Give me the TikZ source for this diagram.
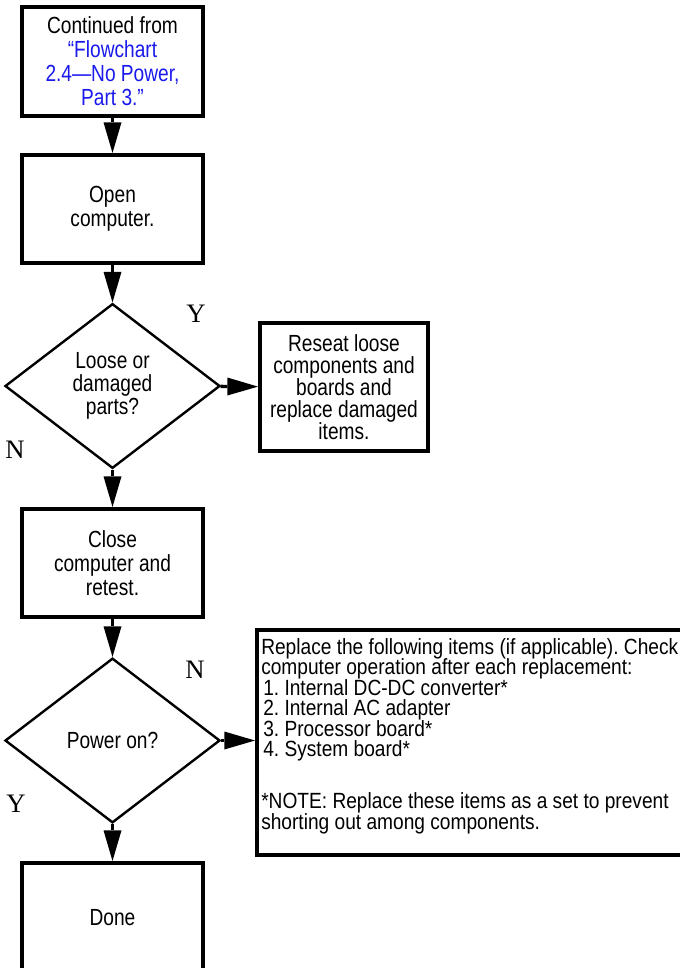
\documentclass[tikz,border=0pt]{standalone}
\usepackage{fontspec}
\setmainfont{Liberation Sans}[FakeStretch=0.82]
\newfontfamily\notefont{Liberation Sans}[FakeStretch=0.87]
\newfontfamily\ynfont{Liberation Serif}
\usepackage{tikz}
\usetikzlibrary{shapes}
\usetikzlibrary{arrows.meta}
\definecolor{linkblue}{RGB}{25,25,235}

\begin{document}
\begin{tikzpicture}[x=0.75pt,y=0.75pt,yscale=-1,xscale=1,
  stepbox/.style={draw,line width=3pt,inner sep=0pt,align=center,font=\fontsize{17.5}{18}\selectfont},
  askbox/.style={draw,diamond,line width=1.8pt,inner sep=0pt,align=center,minimum width=161.25pt,minimum height=123.5pt,font=\fontsize{17.5}{17.3}\selectfont},
  ynlabel/.style={inner sep=0pt,font=\ynfont\fontsize{20}{20}\selectfont},
  flow/.style={line width=2.6pt,-{Triangle[length=23pt,width=13.5pt,line width=0pt]}}]
\useasboundingbox (0,0) rectangle (680,968);
\clip (0,0) rectangle (680,968);
\node [stepbox,minimum width=135.75pt,minimum height=81.75pt] (cont) at (112.5,61.5) {Continued from\\\textcolor{linkblue}{“Flowchart}\\\textcolor{linkblue}{2.4—No Power,}\\\textcolor{linkblue}{Part 3.”}};
\node [stepbox,minimum width=135.75pt,minimum height=81pt] (open) at (112.5,209) {Open\\computer.};
\node [askbox] (loose) at (112.5,386) {Loose or\\damaged\\parts?};
\node [stepbox,minimum width=126pt,minimum height=96pt,font=\fontsize{17.5}{16.5}\selectfont] (reseat) at (344,387) {Reseat loose\\components and\\boards and\\replace damaged\\items.};
\node [stepbox,minimum width=135.75pt,minimum height=81pt] (close) at (112.5,563) {Close\\computer and\\retest.};
\node [askbox] (power) at (112.5,740.5) {Power on?};
\node [stepbox,minimum width=324.75pt,minimum height=168.75pt] (replace) at (473.5,742.5) {};
\node [anchor=north west,inner sep=0pt,align=left,font=\notefont\fontsize{16.5}{15.4}\selectfont\frenchspacing] (replacetext) at (261,638) {Replace the following items (if applicable). Check\\computer operation after each replacement:\\\hspace*{1.5pt}1. Internal DC-DC converter*\\\hspace*{1.5pt}2. Internal AC adapter\\\hspace*{1.5pt}3. Processor board*\\\hspace*{1.5pt}4. System board*\\[23.6pt]*NOTE: Replace these items as a set to prevent\\shorting out among components.};
\node [stepbox,minimum width=135.75pt,minimum height=82.5pt] (done) at (112.5,918) {Done};
\node [ynlabel] (yloose) at (196,314) {Y};
\node [ynlabel] (nloose) at (15,450) {N};
\node [ynlabel] (npower) at (195,670) {N};
\node [ynlabel] (ypower) at (16,804) {Y};
\draw [flow] (cont) -- (open);
\draw [flow] (open) -- (loose);
\draw [flow] (loose) -- (reseat);
\draw [flow] (loose) -- (close);
\draw [flow] (close) -- (power);
\draw [flow] (power.east) -- (power.east -| replace.west);
\draw [flow] (power) -- (done);
\end{tikzpicture}
\end{document}
